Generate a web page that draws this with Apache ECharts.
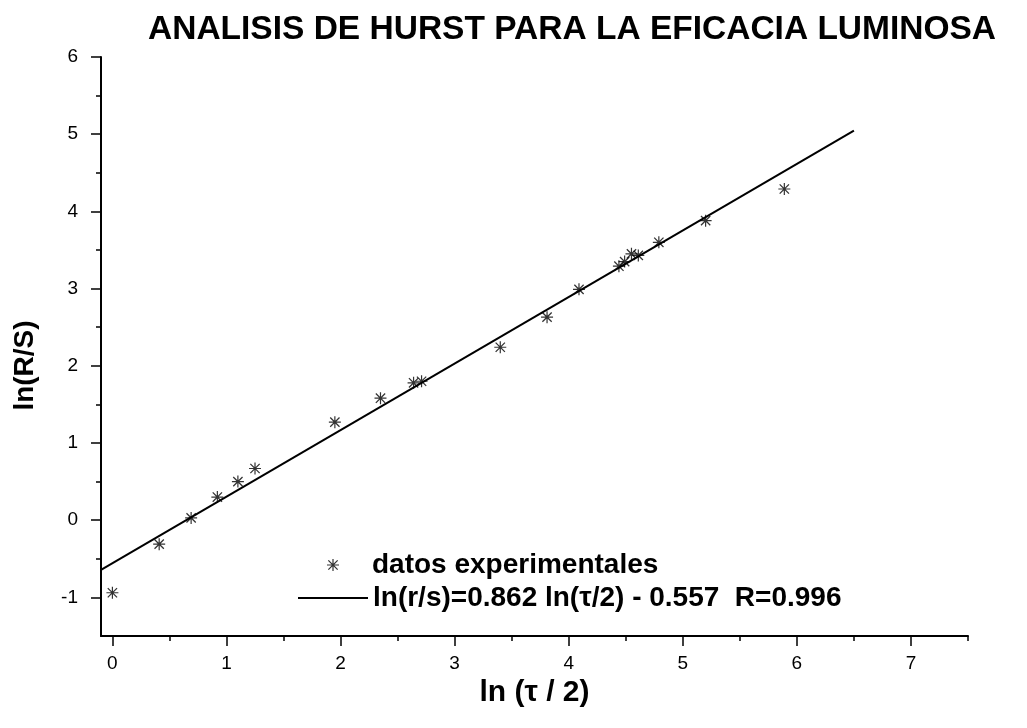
<!DOCTYPE html>
<html>
<head>
<meta charset="utf-8">
<script src="https://cdn.jsdelivr.net/npm/echarts@6/dist/echarts.min.js"></script>
<style>
  html, body { margin: 0; padding: 0; background: #fff; }
  #main { width: 1027px; height: 728px; }
</style>
</head>
<body>
<div id="main"></div>
<script>
// ln(tau/2) vs ln(R/S)
var lnTau = [0, 0.41, 0.69, 0.92, 1.10, 1.25, 1.95, 2.35, 2.64, 2.71, 3.40, 3.81, 4.09, 4.44, 4.49, 4.55, 4.61, 4.79, 5.20, 5.89];
var lnRS  = [-0.94, -0.31, 0.03, 0.30, 0.50, 0.67, 1.27, 1.58, 1.78, 1.80, 2.24, 2.63, 2.99, 3.29, 3.35, 3.45, 3.43, 3.60, 3.88, 4.29];

// ends of the fitted line
var fitX = [-0.1, 6.5];
var fitY = [-0.643, 5.046];

var xMajor = [0, 1, 2, 3, 4, 5, 6, 7];
var xMinor = [0.5, 1.5, 2.5, 3.5, 4.5, 5.5, 6.5, 7.5];
var yMajor = [-1, 0, 1, 2, 3, 4, 5, 6];
var yMinor = [-0.5, 0.5, 1.5, 2.5, 3.5, 4.5, 5.5];

var dataName = 'datos experimentales';
var fitName = 'ln(r/s)=0.862 ln(\u03c4/2) - 0.557  R=0.996';

// asterisk marker
var star = 'path://M0 9H20V11H0Z M9 0H11V20H9Z M1.5 3L3 1.5L18.5 17L17 18.5Z M17 1.5L18.5 3L3 18.5L1.5 17Z';

var font = '"Liberation Sans", Arial, sans-serif';

var points = lnTau.map(function (x, i) { return [x, lnRS[i]]; });
var fitLine = fitX.map(function (x, i) { return [x, fitY[i]]; });

var myChart = echarts.init(document.getElementById('main'));

function majorAxis(pos, min, max, ticks, extra) {
  var ax = {
    type: 'value',
    position: pos,
    min: min,
    max: max,
    splitLine: { show: false },
    axisLine: { show: true, onZero: false, lineStyle: { color: '#000', width: 2 } },
    axisTick: { show: true, customValues: ticks, length: 10, lineStyle: { color: '#000', width: 1.5 } },
    axisLabel: { customValues: ticks, color: '#000', fontSize: 19, fontFamily: font }
  };
  return Object.assign(ax, extra);
}

function minorAxis(pos, min, max, ticks) {
  return {
    type: 'value',
    position: pos,
    min: min,
    max: max,
    splitLine: { show: false },
    axisLine: { show: false, onZero: false },
    axisTick: { show: true, customValues: ticks, length: 5, lineStyle: { color: '#000', width: 1.5 } },
    axisLabel: { show: false }
  };
}

var option = {
  backgroundColor: '#fff',
  animation: false,
  title: {
    text: 'ANALISIS DE HURST PARA LA EFICACIA LUMINOSA',
    left: 148,
    top: 13,
    padding: 0,
    textStyle: { color: '#000', fontSize: 33.5, fontWeight: 'bold', fontFamily: font }
  },
  grid: { left: 101, right: 59, top: 57, bottom: 92, containLabel: false, outerBoundsMode: 'none' },
  legend: [
    {
      data: [{ name: dataName, icon: star }],
      left: 327,
      top: 551,
      padding: 0,
      itemWidth: 12,
      itemHeight: 12,
      textStyle: { color: '#000', fontSize: 28, fontWeight: 'bold', fontFamily: font, padding: [0, 0, 0, 28] }
    },
    {
      data: [{ name: fitName, icon: 'rect' }],
      left: 298,
      top: 584,
      padding: 0,
      itemWidth: 70,
      itemHeight: 2,
      textStyle: { color: '#000', fontSize: 28, fontWeight: 'bold', fontFamily: font }
    }
  ],
  xAxis: [
    majorAxis('bottom', -0.1, 7.5, xMajor, {
      name: 'ln (\u03c4 / 2)',
      nameLocation: 'middle',
      nameGap: 33,
      nameTextStyle: { color: '#000', fontSize: 30, fontWeight: 'bold', fontFamily: font },
      axisLabel: { customValues: xMajor, color: '#000', fontSize: 19, fontFamily: font, margin: 18 }
    }),
    minorAxis('bottom', -0.1, 7.5, xMinor)
  ],
  yAxis: [
    majorAxis('left', -1.5, 6, yMajor, {
      name: 'ln(R/S)',
      nameLocation: 'middle',
      nameGap: 62,
      nameTextStyle: { color: '#000', fontSize: 28, fontWeight: 'bold', fontFamily: font, padding: [0, 38, 0, 0] },
      axisLabel: { customValues: yMajor, color: '#000', fontSize: 19, fontFamily: font, margin: 23 }
    }),
    minorAxis('left', -1.5, 6, yMinor)
  ],
  series: [
    {
      name: dataName,
      type: 'scatter',
      symbol: star,
      symbolSize: 12,
      itemStyle: { color: '#000' },
      data: points
    },
    {
      name: fitName,
      type: 'line',
      showSymbol: false,
      symbol: 'none',
      lineStyle: { color: '#000', width: 2 },
      itemStyle: { color: '#000' },
      data: fitLine
    }
  ]
};

myChart.setOption(option);
</script>
</body>
</html>
